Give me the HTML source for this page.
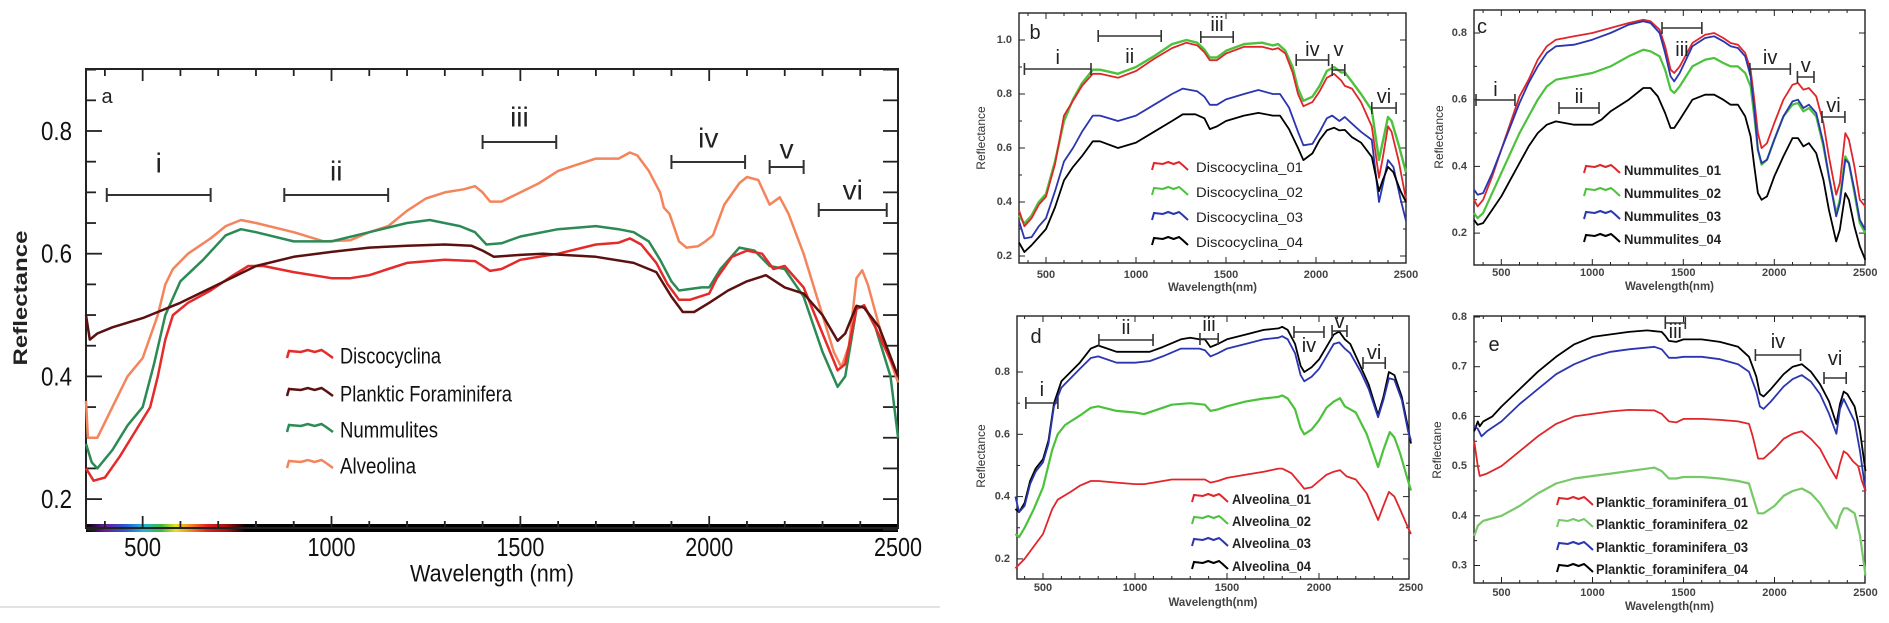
<!DOCTYPE html>
<html><head><meta charset="utf-8">
<style>
html,body{margin:0;padding:0;background:#fff;}
svg{display:block;}
text{font-family:"Liberation Sans",sans-serif;}
</style></head>
<body>
<svg id="s" width="1889" height="623" viewBox="0 0 1889 623" xmlns="http://www.w3.org/2000/svg">
<defs>
<linearGradient id="spec" x1="0" x2="1" y1="0" y2="0">
<stop offset="0" stop-color="#000"/>
<stop offset="0.12" stop-color="#6a1b9a"/>
<stop offset="0.25" stop-color="#2a5bd7"/>
<stop offset="0.36" stop-color="#1fb5d6"/>
<stop offset="0.47" stop-color="#3dbb3d"/>
<stop offset="0.56" stop-color="#e8e020"/>
<stop offset="0.65" stop-color="#f08a20"/>
<stop offset="0.76" stop-color="#e0201e"/>
<stop offset="0.88" stop-color="#a01010"/>
<stop offset="1" stop-color="#000"/>
</linearGradient>
</defs>
<line x1="0" y1="607" x2="940" y2="607" stroke="#e2e2e2" stroke-width="2"/>
<g id="g"></g>
</svg>
<script>
const NS="http://www.w3.org/2000/svg";
const G=document.getElementById('g');
function el(t,a,txt){const e=document.createElementNS(NS,t);for(const k in a)e.setAttribute(k,a[k]);if(txt!==undefined)e.textContent=txt;G.appendChild(e);return e;}
const PN={
 a:{X:n=>86+(n-350)*0.3777,Y:v=>131+(0.8-v)*613.5,box:[86,69,898,528]},
 b:{X:n=>1019+(n-350)*0.18,Y:v=>40+(1-v)*270,box:[1019,13,1406,263]},
 c:{X:n=>1474+(n-350)*0.182,Y:v=>33+(0.8-v)*333.5,box:[1474,10,1865,265]},
 d:{X:n=>1043+(n-500)*0.184,Y:v=>372+(0.8-v)*311.5,box:[1017,316,1409,579]},
 e:{X:n=>1501.5+(n-500)*0.182,Y:v=>317+(0.8-v)*497,box:[1474,316,1865,583]}
};
function curve(p,d,c,w){const P=PN[p];let s='';for(let i=0;i<d.length;i+=2){s+=(i?'L':'M')+P.X(d[i]).toFixed(1)+' '+P.Y(d[i+1]).toFixed(1);}el('path',{d:s,fill:'none',stroke:c,'stroke-width':w,'stroke-linejoin':'round'});}
function brk(p,n1,n2,y,lab,ly,fs){const P=PN[p];const x1=P.X(n1),x2=P.X(n2);const h=fs>25?7:6;
 el('path',{d:`M${x1} ${y}H${x2}M${x1} ${y-h}V${y+h}M${x2} ${y-h}V${y+h}`,stroke:'#333','stroke-width':fs>25?2:1.6,fill:'none'});
 el('text',{x:(x1+x2)/2,y:ly,'font-size':fs,'text-anchor':'middle','dominant-baseline':'central',fill:'#222'},lab);}
function glyph(x,y,w,c,sw){el('path',{d:`M${x} ${y+7}L${x+2} ${y}L${x+w*0.3} ${y+1}L${x+w*0.45} ${y-1}L${x+w*0.6} ${y+1}L${x+w*0.75} ${y-1}L${x+w*0.85} ${y+2}L${x+w} ${y+7}`,fill:'none',stroke:c,'stroke-width':sw});}
function axes(p,xt,yt,ymin,lw){const P=PN[p];const [x0,y0,x1,y1]=P.box;
 el('rect',{x:x0,y:y0,width:x1-x0,height:y1-y0,fill:'none',stroke:'#222','stroke-width':lw});
 const big=p==='a';
 for(let n=400;n<=2500;n+=100){const x=P.X(n);if(x<x0+1||x>x1-1)continue;const L=(n%500==0)?(big?12:6):(big?7:3);
  el('line',{x1:x,y1:y0,x2:x,y2:y0+L,stroke:'#222','stroke-width':big?1.8:1});
  el('line',{x1:x,y1:y1,x2:x,y2:y1-L,stroke:'#222','stroke-width':big?1.8:1});}
 yt.forEach(t=>{const y=P.Y(t[0]);const L=t[1]?(big?16:6):(big?10:3);
  el('line',{x1:x0,y1:y,x2:x0+L,y2:y,stroke:'#222','stroke-width':big?1.8:1});
  el('line',{x1:x1,y1:y,x2:x1-(big?15:L),y2:y,stroke:'#222','stroke-width':big?1.8:1});});
}
// ---------- Panel a
(function(){const P=PN.a;
 el('rect',{x:86,y:524,width:812,height:8,fill:'#000'});
 el('rect',{x:86,y:524,width:160,height:8,fill:'url(#spec)'});
 const yt=[];for(let v=0.15;v<=0.9001;v+=0.05){const r=Math.round(v*100);yt.push([v,r%20==0]);}
 axes('a',0,yt,0,2);
 [[0.8,'0.8'],[0.6,'0.6'],[0.4,'0.4'],[0.2,'0.2']].forEach(t=>el('text',{x:72,y:P.Y(t[0]),'font-size':26,'text-anchor':'end','dominant-baseline':'central',fill:'#111',textLength:31,lengthAdjust:'spacingAndGlyphs'},t[1]));
 [500,1000,1500,2000,2500].forEach(n=>el('text',{x:P.X(n),y:547,'font-size':26,'text-anchor':'middle','dominant-baseline':'central',fill:'#111',textLength:n<1000?37:48,lengthAdjust:'spacingAndGlyphs'},n));
 el('text',{x:492,y:574,'font-size':24,'text-anchor':'middle','dominant-baseline':'central',fill:'#111',textLength:164,lengthAdjust:'spacingAndGlyphs'},'Wavelength (nm)');
 el('text',{x:0,y:0,'font-size':19,'font-weight':'bold','text-anchor':'middle',fill:'#222',transform:'translate(27,298) rotate(-90)',textLength:135,lengthAdjust:'spacingAndGlyphs'},'Reflectance');
 el('text',{x:107,y:97,'font-size':20,'text-anchor':'middle','dominant-baseline':'central',fill:'#222'},'a');
 brk('a',405,680,195,'i',163,28);brk('a',875,1150,195,'ii',171,28);brk('a',1400,1595,142,'iii',117,28);
 brk('a',1900,2095,162,'iv',138,28);brk('a',2160,2250,167,'v',149,28);brk('a',2290,2470,210,'vi',190,28);
 const D={
 alv:[350,0.36,355,0.30,380,0.30,420,0.35,460,0.40,500,0.43,540,0.50,560,0.55,580,0.575,620,0.60,680,0.625,720,0.645,760,0.655,800,0.65,900,0.635,980,0.62,1050,0.622,1100,0.635,1150,0.645,1200,0.67,1250,0.69,1300,0.70,1350,0.705,1380,0.71,1400,0.70,1420,0.685,1450,0.685,1500,0.70,1550,0.715,1600,0.735,1650,0.745,1700,0.755,1760,0.755,1790,0.765,1810,0.76,1840,0.735,1870,0.70,1880,0.675,1895,0.665,1920,0.62,1940,0.61,1970,0.612,1990,0.62,2010,0.63,2040,0.68,2080,0.715,2100,0.725,2130,0.72,2160,0.68,2187,0.692,2210,0.665,2250,0.60,2300,0.50,2330,0.44,2350,0.415,2370,0.45,2390,0.56,2405,0.573,2420,0.55,2460,0.46,2500,0.39],
 brn:[350,0.50,360,0.46,380,0.47,420,0.48,500,0.495,600,0.52,700,0.55,800,0.58,900,0.595,1000,0.603,1100,0.61,1200,0.613,1300,0.615,1370,0.613,1400,0.605,1430,0.595,1500,0.598,1560,0.60,1700,0.595,1800,0.585,1860,0.57,1900,0.53,1930,0.505,1960,0.505,2000,0.52,2050,0.54,2100,0.555,2150,0.565,2200,0.545,2250,0.535,2300,0.50,2340,0.458,2360,0.47,2390,0.515,2410,0.512,2450,0.48,2500,0.40],
 grn:[350,0.29,365,0.26,380,0.25,420,0.28,460,0.32,500,0.35,530,0.42,560,0.50,600,0.555,660,0.59,720,0.63,760,0.64,800,0.635,900,0.62,1000,0.62,1100,0.635,1200,0.65,1260,0.655,1340,0.645,1380,0.635,1410,0.615,1450,0.617,1500,0.628,1600,0.64,1700,0.645,1760,0.64,1800,0.635,1840,0.62,1870,0.59,1900,0.555,1920,0.54,1980,0.545,2000,0.545,2030,0.575,2080,0.61,2120,0.605,2160,0.58,2200,0.575,2250,0.53,2300,0.44,2340,0.383,2360,0.40,2390,0.51,2410,0.515,2440,0.48,2480,0.40,2500,0.30],
 red:[350,0.25,370,0.23,400,0.235,440,0.27,480,0.31,520,0.35,540,0.40,560,0.46,580,0.50,620,0.52,680,0.54,740,0.565,780,0.58,820,0.58,900,0.57,1000,0.56,1050,0.56,1100,0.565,1150,0.575,1200,0.585,1300,0.59,1380,0.588,1400,0.58,1420,0.572,1450,0.575,1500,0.59,1600,0.60,1700,0.615,1760,0.618,1790,0.625,1820,0.615,1860,0.585,1890,0.55,1920,0.525,1950,0.525,2000,0.535,2020,0.56,2060,0.595,2100,0.605,2140,0.60,2170,0.575,2200,0.58,2250,0.545,2300,0.47,2340,0.41,2360,0.42,2390,0.51,2410,0.516,2440,0.48,2470,0.44,2500,0.40]};
 curve('a',D.alv,'#f4845c',2.5);curve('a',D.grn,'#2c8a55',2.5);curve('a',D.red,'#e52a2a',2.5);curve('a',D.brn,'#5c1010',2.5);
 const L=[['#e52a2a','Discocyclina',356,101],['#5c1010','Planktic Foraminifera',394,172],['#2c8a55','Nummulites',430,98],['#f4845c','Alveolina',466,76]];
 L.forEach(l=>{glyph(287,l[2]-5,46,l[0],2.5);el('text',{x:340,y:l[2],'font-size':22,'dominant-baseline':'central',fill:'#111',textLength:l[3],lengthAdjust:'spacingAndGlyphs'},l[1]);});
})();
// ---------- small panels helpers
function small(p,yl,xlY,wlY,rx,ry,lab,lx,ly,labels){const P=PN[p];
 const yt=[];yl.forEach(v=>yt.push([v,true]));
 const mid=[];for(let i=0;i<yl.length-1;i++)mid.push([(yl[i]+yl[i+1])/2,false]);
 axes(p,0,yt.concat(mid),0,1.4);
 yl.forEach(v=>el('text',{x:P.box[0]-7,y:P.Y(v),'font-size':11,'font-weight':'bold','text-anchor':'end','dominant-baseline':'central',fill:'#444'},v.toFixed(1)));
 [500,1000,1500,2000,2500].forEach(n=>{const x=P.X(n);if(x>P.box[2]+3)return;el('text',{x:x,y:xlY,'font-size':11,'font-weight':'bold','text-anchor':'middle','dominant-baseline':'central',fill:'#444'},n);});
 el('text',{x:(P.box[0]+P.box[2])/2,y:wlY,'font-size':11.5,'font-weight':'bold','text-anchor':'middle','dominant-baseline':'central',fill:'#444'},'Wavelength(nm)');
 el('text',{x:0,y:0,'font-size':12,'text-anchor':'middle','dominant-baseline':'central',fill:'#333',transform:`translate(${rx},${ry}) rotate(-90)`},labels||'Reflectance');
 el('text',{x:lx,y:ly,'font-size':20,'text-anchor':'middle','dominant-baseline':'central',fill:'#222'},lab);
}
function legend(x,tx,rows,names,cols,tl,fs,bold){rows.forEach((y,i)=>{glyph(x,y-4,36,cols[i],2);el('text',{x:tx,y:y,'font-size':fs,'font-weight':bold?'bold':'normal','dominant-baseline':'central',fill:'#222',textLength:tl,lengthAdjust:'spacingAndGlyphs'},names[i]);});}
const R='#e0262a',GR='#4cc23c',B='#2a35b0',K='#000';
// ---------- b
small('b',[0.2,0.4,0.6,0.8,1.0],275,288,981,138,'b',1035,33);
curve('b',[350,0.35,380,0.32,420,0.35,460,0.40,500,0.43,550,0.55,600,0.70,650,0.78,700,0.84,760,0.89,800,0.89,900,0.875,1000,0.90,1100,0.94,1200,0.985,1280,1.0,1340,0.99,1380,0.965,1410,0.935,1450,0.935,1500,0.96,1600,0.985,1700,0.99,1760,0.98,1790,0.985,1830,0.96,1870,0.90,1900,0.82,1930,0.775,1980,0.79,2020,0.83,2060,0.885,2100,0.90,2140,0.88,2160,0.88,2200,0.845,2250,0.80,2310,0.74,2350,0.556,2370,0.62,2400,0.715,2420,0.70,2460,0.61,2500,0.51],GR,2.4);
curve('b',[350,0.37,380,0.31,420,0.34,460,0.39,500,0.42,550,0.54,600,0.72,700,0.83,760,0.875,800,0.875,900,0.86,1000,0.885,1100,0.93,1200,0.97,1280,0.99,1340,0.98,1380,0.955,1410,0.925,1450,0.925,1500,0.95,1600,0.975,1700,0.975,1760,0.965,1790,0.97,1830,0.95,1870,0.88,1900,0.80,1930,0.755,1980,0.77,2020,0.81,2060,0.86,2100,0.875,2140,0.85,2160,0.83,2200,0.82,2250,0.77,2310,0.68,2350,0.49,2370,0.56,2400,0.68,2420,0.66,2460,0.55,2500,0.41],R,1.8);
curve('b',[350,0.33,380,0.265,420,0.27,460,0.31,500,0.34,550,0.44,600,0.55,650,0.60,700,0.66,760,0.72,800,0.72,900,0.70,1000,0.72,1100,0.76,1200,0.80,1260,0.82,1340,0.81,1380,0.79,1410,0.76,1450,0.76,1500,0.78,1600,0.80,1680,0.815,1760,0.80,1800,0.80,1850,0.75,1900,0.66,1930,0.61,1980,0.615,2020,0.66,2060,0.71,2090,0.72,2130,0.70,2160,0.715,2200,0.69,2250,0.66,2310,0.63,2350,0.40,2370,0.46,2400,0.555,2430,0.53,2470,0.41,2500,0.33],B,1.8);
curve('b',[350,0.25,380,0.215,420,0.24,460,0.27,500,0.30,550,0.38,600,0.48,650,0.53,700,0.57,760,0.625,800,0.625,900,0.60,1000,0.62,1100,0.66,1200,0.70,1260,0.725,1330,0.725,1380,0.71,1410,0.67,1450,0.68,1500,0.70,1600,0.72,1680,0.73,1760,0.72,1800,0.72,1850,0.67,1900,0.60,1930,0.555,1980,0.58,2020,0.63,2060,0.665,2100,0.675,2130,0.665,2160,0.667,2200,0.64,2250,0.62,2310,0.567,2350,0.44,2370,0.48,2400,0.53,2430,0.51,2470,0.44,2500,0.40],K,1.8);
brk('b',380,750,69,'i',58,20);brk('b',790,1140,36,'ii',57,20);brk('b',1360,1540,37,'iii',25,20);
brk('b',1890,2070,60,'iv',50,20);brk('b',2090,2160,70,'v',50,20);brk('b',2310,2445,108,'vi',97,20);
legend(1152,1196,[167,192,217,242],['Discocyclina_01','Discocyclina_02','Discocyclina_03','Discocyclina_04'],[R,GR,B,K],107,14,false);
// ---------- c
small('c',[0.2,0.4,0.6,0.8],273,287,1439,137,'c',1482,27);
curve('c',[350,0.30,370,0.28,400,0.30,450,0.37,500,0.45,550,0.53,600,0.61,650,0.66,700,0.72,750,0.76,800,0.78,900,0.79,1000,0.80,1100,0.815,1200,0.83,1280,0.84,1320,0.835,1370,0.81,1400,0.76,1430,0.69,1450,0.68,1480,0.70,1550,0.77,1620,0.795,1670,0.80,1720,0.785,1760,0.77,1800,0.765,1840,0.74,1870,0.69,1890,0.60,1910,0.50,1930,0.455,1960,0.47,2000,0.53,2050,0.60,2100,0.645,2130,0.65,2160,0.63,2190,0.635,2230,0.61,2270,0.53,2300,0.43,2340,0.315,2360,0.35,2390,0.50,2410,0.48,2440,0.40,2470,0.30,2500,0.28],R,1.8);
curve('c',[350,0.26,370,0.245,400,0.26,450,0.32,500,0.38,550,0.44,600,0.50,650,0.55,700,0.60,750,0.64,800,0.66,900,0.67,1000,0.68,1100,0.70,1200,0.73,1280,0.75,1320,0.745,1370,0.73,1400,0.69,1430,0.63,1450,0.62,1480,0.64,1550,0.70,1620,0.72,1670,0.725,1720,0.71,1760,0.70,1800,0.70,1840,0.68,1870,0.64,1890,0.55,1910,0.45,1930,0.405,1960,0.42,2000,0.48,2050,0.55,2100,0.585,2130,0.59,2160,0.565,2190,0.575,2230,0.55,2270,0.46,2300,0.37,2340,0.26,2360,0.30,2390,0.43,2410,0.41,2440,0.32,2470,0.23,2500,0.20],GR,2.2);
curve('c',[350,0.33,370,0.315,400,0.32,450,0.38,500,0.45,550,0.52,600,0.59,650,0.65,700,0.70,750,0.74,800,0.76,900,0.765,1000,0.78,1100,0.80,1200,0.825,1280,0.835,1320,0.83,1370,0.80,1400,0.74,1430,0.67,1450,0.655,1480,0.68,1550,0.76,1620,0.785,1670,0.79,1720,0.775,1760,0.76,1800,0.755,1840,0.73,1870,0.67,1890,0.57,1910,0.45,1930,0.41,1960,0.42,2000,0.48,2050,0.55,2100,0.595,2130,0.60,2160,0.575,2190,0.585,2230,0.56,2270,0.47,2300,0.37,2340,0.25,2360,0.29,2390,0.42,2410,0.41,2440,0.33,2470,0.24,2500,0.21],B,1.8);
curve('c',[350,0.24,370,0.225,400,0.23,450,0.27,500,0.31,550,0.36,600,0.41,650,0.46,700,0.50,750,0.525,800,0.535,900,0.525,1000,0.525,1050,0.54,1100,0.565,1200,0.60,1280,0.635,1320,0.635,1360,0.61,1400,0.56,1430,0.515,1450,0.515,1480,0.54,1550,0.60,1620,0.615,1670,0.615,1720,0.60,1760,0.585,1800,0.585,1840,0.55,1870,0.49,1890,0.40,1910,0.32,1930,0.30,1960,0.31,2000,0.37,2050,0.43,2100,0.485,2130,0.485,2160,0.46,2190,0.47,2230,0.44,2270,0.36,2300,0.27,2340,0.175,2360,0.21,2390,0.32,2410,0.30,2440,0.22,2470,0.16,2500,0.12],K,1.8);
brk('c',361,575,100,'i',90,20);brk('c',817,1037,108,'ii',97,20);brk('c',1383,1602,28,'iii',50,20);
brk('c',1866,2088,69,'iv',58,20);brk('c',2127,2218,77,'v',66,20);brk('c',2262,2388,117,'vi',106,20);
legend(1584,1624,[170,193,216,239],['Nummulites_01','Nummulites_02','Nummulites_03','Nummulites_04'],[R,GR,B,K],97,14,true);
// ---------- d
small('d',[0.2,0.4,0.6,0.8],588,603,981,456,'d',1036,337);
curve('d',[350,0.36,370,0.35,400,0.38,430,0.45,460,0.49,500,0.52,530,0.58,560,0.70,600,0.77,650,0.80,700,0.83,760,0.875,800,0.885,850,0.875,900,0.865,1000,0.865,1080,0.865,1150,0.88,1250,0.905,1300,0.91,1350,0.905,1380,0.905,1410,0.88,1450,0.89,1500,0.905,1600,0.92,1700,0.935,1780,0.94,1800,0.945,1830,0.935,1870,0.89,1900,0.82,1920,0.80,1960,0.815,2000,0.84,2040,0.88,2080,0.92,2110,0.93,2140,0.905,2170,0.89,2227,0.816,2270,0.76,2321,0.662,2350,0.72,2380,0.80,2410,0.79,2450,0.72,2484,0.62,2500,0.57],K,1.8);
curve('d',[350,0.40,370,0.35,400,0.37,430,0.44,460,0.48,500,0.51,530,0.57,560,0.69,600,0.75,650,0.78,700,0.81,760,0.845,800,0.85,900,0.83,1000,0.83,1080,0.835,1150,0.85,1250,0.875,1350,0.875,1380,0.87,1410,0.85,1450,0.86,1500,0.875,1600,0.89,1700,0.905,1780,0.91,1800,0.915,1830,0.905,1870,0.86,1900,0.79,1920,0.77,1960,0.785,2000,0.81,2040,0.85,2080,0.89,2110,0.895,2140,0.875,2170,0.86,2227,0.80,2270,0.745,2321,0.655,2350,0.71,2380,0.78,2410,0.775,2450,0.71,2484,0.61,2500,0.58],B,1.8);
curve('d',[350,0.28,370,0.27,400,0.30,450,0.36,500,0.43,550,0.55,580,0.60,620,0.63,700,0.66,760,0.685,800,0.69,900,0.675,1000,0.67,1050,0.665,1100,0.675,1200,0.695,1300,0.70,1380,0.695,1410,0.675,1450,0.68,1500,0.69,1600,0.705,1700,0.715,1780,0.72,1800,0.725,1830,0.715,1870,0.68,1900,0.62,1920,0.60,1960,0.615,2000,0.645,2040,0.685,2080,0.705,2114,0.716,2140,0.69,2200,0.67,2260,0.60,2321,0.495,2350,0.55,2385,0.607,2410,0.59,2440,0.54,2484,0.45,2500,0.42],GR,2.2);
curve('d',[350,0.17,400,0.20,450,0.24,500,0.28,550,0.36,580,0.39,650,0.415,700,0.435,760,0.45,800,0.45,900,0.445,1000,0.44,1050,0.44,1100,0.445,1200,0.455,1300,0.455,1380,0.455,1410,0.445,1450,0.45,1500,0.46,1600,0.47,1700,0.48,1780,0.49,1800,0.49,1850,0.475,1900,0.44,1920,0.425,1960,0.43,2000,0.45,2040,0.47,2080,0.48,2114,0.485,2150,0.465,2200,0.455,2260,0.41,2321,0.325,2350,0.37,2380,0.415,2410,0.40,2440,0.36,2484,0.30,2500,0.28],R,1.8);
brk('d',407,581,403,'i',390,20);brk('d',804,1098,340,'ii',328,20);brk('d',1353,1452,339,'iii',325,20);
brk('d',1864,2027,332,'iv',346,20);brk('d',2071,2152,331,'v',322,20);brk('d',2239,2360,363,'vi',353,20);
legend(1192,1232,[499,521,543,566],['Alveolina_01','Alveolina_02','Alveolina_03','Alveolina_04'],[R,GR,B,K],79,14,true);
// ---------- e
small('e',[0.3,0.4,0.5,0.6,0.7,0.8],593,607,1437,450,'e',1494,345,'Reflectane');
curve('e',[350,0.57,370,0.59,380,0.58,400,0.59,450,0.60,500,0.62,600,0.655,700,0.69,800,0.72,900,0.745,1000,0.76,1100,0.765,1200,0.77,1300,0.773,1380,0.77,1400,0.762,1420,0.752,1460,0.75,1500,0.755,1600,0.755,1700,0.75,1800,0.74,1860,0.72,1900,0.68,1920,0.645,1940,0.64,1980,0.655,2050,0.685,2100,0.70,2150,0.705,2200,0.69,2250,0.665,2300,0.63,2340,0.585,2360,0.625,2380,0.65,2400,0.645,2440,0.62,2470,0.57,2500,0.49],K,1.8);
curve('e',[350,0.58,370,0.575,390,0.56,420,0.57,500,0.59,600,0.625,700,0.655,800,0.685,900,0.705,1000,0.72,1100,0.73,1200,0.735,1340,0.74,1380,0.735,1420,0.718,1460,0.718,1500,0.72,1600,0.72,1700,0.715,1800,0.705,1860,0.69,1900,0.65,1920,0.62,1940,0.615,1980,0.63,2050,0.66,2100,0.675,2150,0.683,2200,0.67,2250,0.645,2300,0.605,2340,0.565,2360,0.615,2380,0.635,2400,0.62,2440,0.59,2470,0.53,2500,0.45],B,1.8);
curve('e',[350,0.55,370,0.50,380,0.48,420,0.485,500,0.50,600,0.53,700,0.56,800,0.585,900,0.60,1000,0.605,1100,0.61,1200,0.613,1340,0.612,1380,0.605,1420,0.59,1460,0.588,1500,0.595,1600,0.595,1700,0.593,1800,0.59,1860,0.585,1880,0.56,1910,0.515,1940,0.515,2000,0.535,2050,0.555,2100,0.565,2150,0.57,2200,0.555,2250,0.535,2300,0.50,2340,0.475,2360,0.505,2380,0.53,2400,0.525,2430,0.51,2460,0.50,2480,0.47,2500,0.45],R,1.8);
curve('e',[350,0.36,370,0.38,400,0.39,500,0.40,600,0.42,700,0.445,800,0.465,900,0.475,1000,0.48,1100,0.485,1200,0.49,1340,0.497,1380,0.49,1420,0.475,1460,0.475,1500,0.478,1600,0.478,1700,0.475,1800,0.47,1860,0.465,1880,0.44,1910,0.405,1940,0.405,2000,0.42,2050,0.44,2100,0.45,2150,0.455,2200,0.445,2250,0.425,2300,0.395,2340,0.375,2360,0.40,2380,0.415,2400,0.415,2420,0.41,2440,0.405,2470,0.36,2500,0.28],'#78c86a',2.2);
brk('e',1400,1510,323,'iii',332,20);brk('e',1895,2143,355,'iv',342,20);brk('e',2272,2394,378,'vi',359,20);
legend(1557,1596,[502,524,547,569],['Planktic_foraminifera_01','Planktic_foraminifera_02','Planktic_foraminifera_03','Planktic_foraminifera_04'],[R,'#78c86a',B,K],152,14,true);
</script>
</body></html>
